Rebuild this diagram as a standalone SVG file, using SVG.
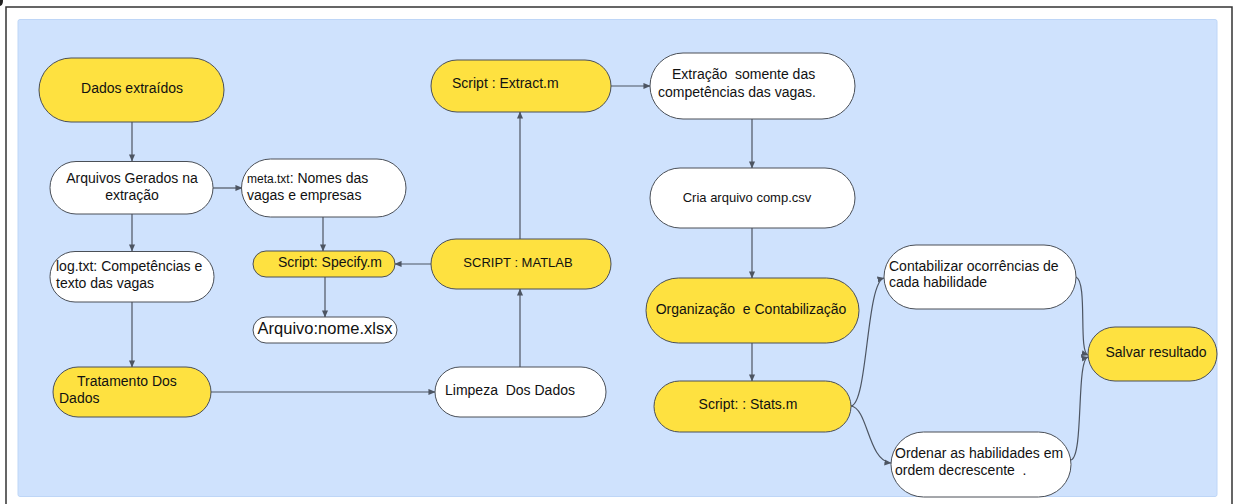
<svg xmlns="http://www.w3.org/2000/svg" width="1233" height="504" viewBox="0 0 1233 504">
<defs>
<style>
.n{stroke:#4a4f57;stroke-width:1}
.y{fill:#fee140}
.w{fill:#ffffff}
.t{font-family:"Liberation Sans",Arial,sans-serif;font-size:14px;fill:#111}
.s{font-size:13px}
.c{fill:none;stroke:#4d5562;stroke-width:1.2}
</style>
<marker id="a" viewBox="0 0 8 8" refX="7.5" refY="4" markerWidth="7" markerHeight="7" markerUnits="userSpaceOnUse" orient="auto">
<path d="M0,0.5 L8,4 L0,7.5 Z" fill="#4d5562"/>
</marker>
</defs>
<rect x="0" y="0" width="1233" height="504" fill="#ffffff"/>
<path d="M6,504 L6,7 L1232,7 L1232,504" fill="none" stroke="#333" stroke-width="1.5"/>
<ellipse cx="0" cy="1" rx="3" ry="5" fill="#222"/>
<rect x="18" y="19.5" width="1199" height="477" rx="2" fill="#cfe2fd" stroke="#bed6f7" stroke-width="1"/>

<g id="connectors">
<path class="c" d="M132,122 L132,161" marker-end="url(#a)"/>
<path class="c" d="M213,188 L242,188" marker-end="url(#a)"/>
<path class="c" d="M132,214 L132,251" marker-end="url(#a)"/>
<path class="c" d="M323,217 L323,251" marker-end="url(#a)"/>
<path class="c" d="M325,277 L325,317" marker-end="url(#a)"/>
<path class="c" d="M132,302 L132,367" marker-end="url(#a)"/>
<path class="c" d="M211,392 L435,392" marker-end="url(#a)"/>
<path class="c" d="M520,367 L520,289" marker-end="url(#a)"/>
<path class="c" d="M431,264 L395,264" marker-end="url(#a)"/>
<path class="c" d="M520,239 L520,112" marker-end="url(#a)"/>
<path class="c" d="M611,86 L650,86" marker-end="url(#a)"/>
<path class="c" d="M752,119 L752,168" marker-end="url(#a)"/>
<path class="c" d="M752,228 L752,278" marker-end="url(#a)"/>
<path class="c" d="M752,343 L752,381" marker-end="url(#a)"/>
<path class="c" d="M851,406 C868,404 866,282 884,278" marker-end="url(#a)"/>
<path class="c" d="M851,406 C868,408 868,461 891,463" marker-end="url(#a)"/>
<path class="c" d="M1076,277 C1088,282 1078,352 1088,355" marker-end="url(#a)"/>
<path class="c" d="M1071,460 C1084,456 1076,360 1088,357" marker-end="url(#a)"/>
</g>

<g id="n1"><rect class="n y" x="39" y="58" width="185" height="64" rx="32"/><text class="t" x="132" y="93" text-anchor="middle">Dados extraídos</text></g>
<g id="n2"><rect class="n w" x="50" y="161.5" width="163" height="52.5" rx="26"/><text class="t" x="132" y="183" text-anchor="middle">Arquivos Gerados na</text><text class="t" x="132" y="200" text-anchor="middle">extração</text></g>
<g id="n3"><rect class="n w" x="241.5" y="159" width="164.5" height="58" rx="29"/><text class="t" x="247" y="183"><tspan style="font-size:12px">meta.txt</tspan>: Nomes das</text><text class="t" x="247" y="200">vagas e empresas</text></g>
<g id="n4"><rect class="n w" x="50" y="251.5" width="164" height="50.5" rx="25"/><text class="t" x="56" y="271">log.txt: Competências e</text><text class="t" x="56" y="288">texto das vagas</text></g>
<g id="n5"><rect class="n y" x="253" y="251" width="142" height="26" rx="13"/><text class="t" x="330" y="267" text-anchor="middle">Script: Specify.m</text></g>
<g id="n6"><rect class="n w" x="253" y="317" width="144" height="26" rx="13"/><text class="t" x="325" y="334" text-anchor="middle" style="font-size:16.5px">Arquivo:nome.xlsx</text></g>
<g id="n7"><rect class="n y" x="53" y="367" width="158" height="50" rx="25"/><text class="t" x="77" y="386">Tratamento Dos</text><text class="t" x="59" y="403">Dados</text></g>
<g id="n8"><rect class="n w" x="435" y="367" width="171" height="50" rx="25"/><text class="t" x="445" y="395" xml:space="preserve">Limpeza  Dos Dados</text></g>
<g id="n9"><rect class="n y" x="431" y="239" width="180" height="50" rx="25"/><text class="t s" x="518" y="267" text-anchor="middle">SCRIPT : MATLAB</text></g>
<g id="n10"><rect class="n y" x="431" y="60" width="180" height="52" rx="26"/><text class="t" x="452" y="88">Script : Extract.m</text></g>
<g id="n11"><rect class="n w" x="650" y="53" width="205" height="66" rx="33"/><text class="t" x="672" y="79" xml:space="preserve">Extração  somente das</text><text class="t" x="658" y="97">competências das vagas.</text></g>
<g id="n12"><rect class="n w" x="650" y="168" width="205" height="60" rx="30"/><text class="t s" x="747" y="202" text-anchor="middle">Cria arquivo comp.csv</text></g>
<g id="n13"><rect class="n y" x="646" y="278" width="213" height="65" rx="32.5"/><text class="t" x="751" y="314" text-anchor="middle" xml:space="preserve">Organização  e Contabilização</text></g>
<g id="n14"><rect class="n y" x="654" y="381" width="197" height="51" rx="25.5"/><text class="t" x="748" y="409" text-anchor="middle">Script: : Stats.m</text></g>
<g id="n15"><rect class="n w" x="884" y="245" width="192" height="64" rx="32"/><text class="t" x="889" y="271">Contabilizar ocorrências de</text><text class="t" x="889" y="287">cada habilidade</text></g>
<g id="n16"><rect class="n w" x="891" y="432" width="180" height="65" rx="32.5"/><text class="t" x="895" y="458">Ordenar as habilidades em</text><text class="t" x="895" y="475" xml:space="preserve">ordem decrescente  .</text></g>
<g id="n17"><rect class="n y" x="1088" y="327" width="129" height="54" rx="27"/><text class="t" x="1156" y="357" text-anchor="middle">Salvar resultado</text></g>
</svg>
